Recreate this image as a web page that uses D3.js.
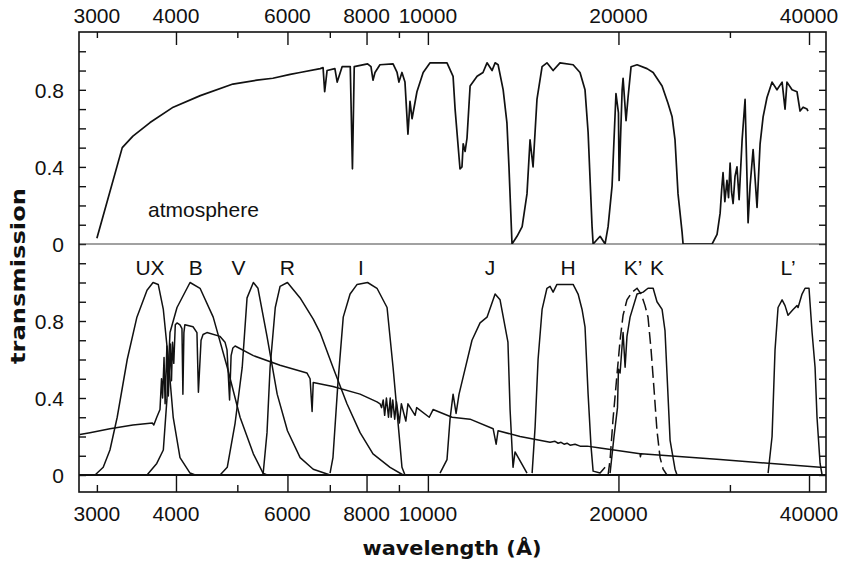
<!DOCTYPE html>
<html><head><meta charset="utf-8">
<script src="https://cdn.jsdelivr.net/npm/d3@7"></script>
<style>body{margin:0;background:#fff}svg{display:block}</style>
</head><body><svg id="chart" width="841" height="566"></svg>
<script>
// ---------- DATA ----------
const atmWave = [3000,3290,3420,3640,3960,4370,4920,5370,5690,6060,6280,6760,6830,6870,6930,7130,7190,7320,7540,7600,7650,8030,8130,8190,8250,8400,8810,8940,9000,9100,9200,9300,9370,9440,9610,9830,10080,10720,10960,11040,11200,11240,11320,11370,11450,11530,11660,11960,12220,12400,12630,12770,12910,13150,13330,13430,13580,13830,14090,14340,14500,14660,14870,15150,15420,15770,16170,16960,17390,17710,17910,18170,18240,18710,19050,19260,19540,19820,20000,20050,20270,20340,20560,20710,20940,21400,22190,22690,23440,23950,24310,24570,24840,25210,25300,28120,28630,28950,29110,29260,29450,29680,29850,30020,30180,30350,30560,30780,31020,31360,31700,32050,32280,32640,33110,33480,33850,34330,34970,35600,36270,36660,36920,37610,38290,38720,39150,39710,39850];
const atmTrans = [0.03,0.50,0.56,0.63,0.71,0.77,0.83,0.85,0.86,0.88,0.89,0.91,0.915,0.79,0.90,0.91,0.84,0.92,0.92,0.39,0.92,0.935,0.92,0.85,0.89,0.93,0.935,0.89,0.84,0.89,0.84,0.57,0.74,0.65,0.79,0.89,0.94,0.94,0.87,0.70,0.45,0.39,0.40,0.52,0.48,0.55,0.82,0.87,0.89,0.94,0.90,0.94,0.93,0.80,0.63,0.40,0.0,0.04,0.09,0.26,0.54,0.40,0.75,0.92,0.94,0.90,0.94,0.93,0.89,0.80,0.58,0.09,0.0,0.04,0.0,0.09,0.30,0.78,0.68,0.33,0.80,0.86,0.64,0.76,0.92,0.93,0.91,0.89,0.82,0.73,0.66,0.54,0.26,0.06,0.0,0.0,0.05,0.16,0.28,0.37,0.22,0.33,0.24,0.42,0.27,0.21,0.35,0.40,0.23,0.54,0.75,0.11,0.30,0.49,0.19,0.52,0.66,0.76,0.84,0.80,0.84,0.70,0.84,0.80,0.79,0.69,0.71,0.70,0.69];

const uxWave = [2980,3070,3146,3230,3350,3470,3600,3680,3750,3820,3890,3960,4059,4210,4290];
const uxTrans = [0,0.04,0.13,0.30,0.60,0.82,0.96,1.0,0.99,0.86,0.60,0.30,0.09,0.01,0];
const bWave = [3600,3730,3820,3870,3914,4015,4210,4366,4580,4820,5050,5300,5490,5570];
const bTrans = [0,0.06,0.13,0.39,0.74,0.87,1.0,0.97,0.82,0.56,0.30,0.11,0.01,0];
const vWave = [4696,4820,4960,5090,5180,5300,5390,5570,5780,6000,6283,6590,7006];
const vTrans = [0,0.04,0.27,0.56,0.92,1.0,0.97,0.72,0.42,0.23,0.09,0.03,0];
const rWave = [5490,5570,5633,5740,5841,6000,6283,6590,6756,7080,7450,7814,8190,8715,9140];
const rTrans = [0,0.22,0.56,0.87,0.98,1.0,0.92,0.81,0.74,0.56,0.37,0.22,0.11,0.04,0];
const iWave = [7006,7080,7210,7350,7535,7730,8030,8310,8620,8810,9000,9100,9200];
const iTrans = [0.01,0.09,0.48,0.82,0.94,0.99,1.0,0.97,0.87,0.56,0.22,0.04,0];
const jWave = [10452,10720,10839,10960,11080,11200,11370,11740,12090,12400,12770,13002,13380,13484,13630,13730,14340];
const jTrans = [0.01,0.08,0.29,0.42,0.32,0.42,0.51,0.70,0.79,0.82,0.94,0.91,0.69,0.34,0.04,0.12,0.01];
const hWave = [14610,14770,14930,15150,15420,15596,15770,15990,16960,17270,17520,17710,17910,18100,18240,18707,19050];
const hTrans = [0.01,0.25,0.60,0.86,0.97,0.98,0.95,0.99,0.99,0.94,0.86,0.77,0.42,0.15,0.02,0.01,0.04];
const kpWave = [19260,19400,19610,19930,20119,20340,20630,21020,21400,21720,22030,22270,22520,22770,23010,23270,23530,23860];
const kpTrans = [0,0.08,0.29,0.55,0.70,0.83,0.91,0.95,0.97,0.94,0.88,0.82,0.65,0.44,0.23,0.09,0.03,0];
const kWave = [19400,19680,19930,20000,20119,20340,20490,20630,20864,21400,21880,22270,22690,23010,23440,23690,23860,24133,24570,24750];
const kTrans = [0.01,0.20,0.35,0.55,0.53,0.74,0.56,0.72,0.82,0.94,0.95,0.97,0.97,0.90,0.86,0.75,0.53,0.18,0.03,0];
const lpWave = [34470,34970,35350,35740,36270,36660,37060,37750,38290,38440,39000,39430,40000,40450,40890,41180,41644,41950];
const lpTrans = [0.01,0.20,0.65,0.87,0.91,0.88,0.83,0.86,0.88,0.87,0.94,0.97,0.97,0.74,0.56,0.30,0.06,0];

const starWave = [2820,2925,3146,3420,3670,3690,3730,3774,3795,3810,3830,3845,3870,3890,3920,3935,3950,3968,3990,4015,4059,4088,4102,4117,4131,4256,4317,4340,4382,4414,4477,4696,4781,4816,4861,4888,4920,4960,5300,5841,6440,6515,6563,6590,7080,7814,8310,8403,8450,8500,8545,8600,8665,8720,8750,8800,8863,8920,9015,9080,9229,9300,9546,9600,10049,10190,10920,11657,12680,12818,12910,13983,15596,15880,16060,16230,16410,16590,16773,17080,17394,17850,18707,21637,21660,21720,28946,41644,42550];
const starFlux = [0.21,0.22,0.24,0.26,0.27,0.26,0.30,0.34,0.50,0.40,0.61,0.37,0.67,0.41,0.68,0.49,0.69,0.58,0.78,0.79,0.78,0.76,0.42,0.74,0.78,0.77,0.74,0.43,0.70,0.73,0.74,0.72,0.69,0.65,0.39,0.62,0.66,0.67,0.62,0.57,0.53,0.50,0.33,0.48,0.46,0.42,0.38,0.37,0.35,0.39,0.31,0.40,0.30,0.40,0.30,0.39,0.29,0.38,0.27,0.37,0.28,0.37,0.31,0.35,0.30,0.34,0.30,0.29,0.24,0.16,0.23,0.20,0.17,0.175,0.165,0.17,0.16,0.165,0.155,0.16,0.15,0.15,0.14,0.11,0.095,0.11,0.08,0.04,0.04];

const filterLabels = ["UX","B","V","R","I","J","H","K\u2019","K","L\u2019"];
const filterLabelWave = [3640,4300,5020,6000,7840,12540,16650,21090,23010,37060];

const xTickLabels = [3000,4000,6000,8000,10000,20000,40000];
const xMajorTicks = [4000,6000,8000,10000,20000,40000];
const xMinorTicks = [3000,5000,7000,9000,30000];
const yTickLabels = [0,0.4,0.8];
const yTicksTop = [0,0.1,0.2,0.3,0.4,0.5,0.6,0.7,0.8,0.9,1.0];
const yTicksBot = [0,0.1,0.2,0.3,0.4,0.5,0.6,0.7,0.8,0.9,1.0,1.1];

// ---------- CHART ----------
const svg = d3.select("#chart");
svg.append("rect").attr("width",841).attr("height",566).attr("fill","#fff");
const L = 79, R = 826, T = 32, B = 492, MID = 244;
const x = d3.scaleLog().domain([2811, 42550]).range([L, R]);
const yTop = d3.scaleLinear().domain([0, 1.1]).range([MID, T]);
const yBot = d3.scaleLinear().domain([-0.0883, 1.2]).range([B, MID]);

const defs = svg.append("defs");
defs.append("clipPath").attr("id","clipTop").append("rect").attr("x",L).attr("y",T).attr("width",R-L).attr("height",MID-T);
defs.append("clipPath").attr("id","clipBot").append("rect").attr("x",L).attr("y",MID).attr("width",R-L).attr("height",B-MID);

const fontTick = "'Liberation Sans', Arial, Helvetica, sans-serif";
const ink = "#111";

function noDomain(g){ g.select(".domain").remove(); g.selectAll(".tick line").attr("stroke",ink).attr("stroke-width",1.4); }

svg.append("g").attr("transform",`translate(0,${T})`)
  .call(d3.axisBottom(x).tickValues(xMajorTicks).tickSize(13).tickFormat(""))
  .call(noDomain);
svg.append("g").attr("transform",`translate(0,${T})`)
  .call(d3.axisBottom(x).tickValues(xMinorTicks).tickSize(6).tickFormat(""))
  .call(noDomain);
svg.append("g").attr("transform",`translate(0,${B})`)
  .call(d3.axisTop(x).tickValues(xMajorTicks).tickSize(17).tickFormat(""))
  .call(noDomain);
svg.append("g").attr("transform",`translate(0,${B})`)
  .call(d3.axisTop(x).tickValues(xMinorTicks).tickSize(7).tickFormat(""))
  .call(noDomain);
[[yTop,yTicksTop],[yBot,yTicksBot]].forEach(([ys,tv])=>{
  svg.append("g").attr("transform",`translate(${L},0)`)
    .call(d3.axisRight(ys).tickValues(tv).tickSize(7).tickFormat("")).call(noDomain);
  svg.append("g").attr("transform",`translate(${R},0)`)
    .call(d3.axisLeft(ys).tickValues(tv).tickSize(7).tickFormat("")).call(noDomain);
});

const tickFmt = d3.format("d");
svg.append("g").selectAll("text").data(xTickLabels).join("text")
  .attr("x",d=>x(d)).attr("y",23).attr("text-anchor","middle")
  .attr("font-family",fontTick).attr("font-size",21).attr("fill",ink).text(tickFmt);
svg.append("g").selectAll("text").data(xTickLabels).join("text")
  .attr("x",d=>x(d)).attr("y",521).attr("text-anchor","middle")
  .attr("font-family",fontTick).attr("font-size",21).attr("fill",ink).text(tickFmt);
const yFmt = d=> d===0 ? "0" : d3.format(".1f")(d);
[yTop,yBot].forEach(ys=>{
  svg.append("g").selectAll("text").data(yTickLabels).join("text")
    .attr("x",64).attr("y",d=>ys(d)+8).attr("text-anchor","end")
    .attr("font-family",fontTick).attr("font-size",21).attr("fill",ink).text(yFmt);
});

svg.append("line").attr("x1",L).attr("x2",R).attr("y1",yTop(0)).attr("y2",yTop(0)).attr("stroke","#444").attr("stroke-width",1.1);
svg.append("line").attr("x1",L).attr("x2",R).attr("y1",yBot(0)).attr("y2",yBot(0)).attr("stroke",ink).attr("stroke-width",1.8);

const lineTop = d3.line().x(d=>x(d[0])).y(d=>yTop(d[1]));
const lineBot = d3.line().x(d=>x(d[0])).y(d=>yBot(d[1]));
svg.append("path").datum(d3.zip(atmWave,atmTrans)).attr("d",lineTop)
  .attr("clip-path","url(#clipTop)").attr("fill","none").attr("stroke",ink).attr("stroke-width",1.7).attr("stroke-linejoin","round");

const gb = svg.append("g").attr("clip-path","url(#clipBot)");
const solid = [[uxWave,uxTrans],[bWave,bTrans],[vWave,vTrans],[rWave,rTrans],[iWave,iTrans],[jWave,jTrans],[hWave,hTrans],[kWave,kTrans],[lpWave,lpTrans],[starWave,starFlux]];
solid.forEach(([w,t])=>{
  gb.append("path").datum(d3.zip(w,t)).attr("d",lineBot)
    .attr("fill","none").attr("stroke",ink).attr("stroke-width",1.5).attr("stroke-linejoin","round");
});
gb.append("path").datum(d3.zip(kpWave,kpTrans)).attr("d",lineBot)
  .attr("fill","none").attr("stroke",ink).attr("stroke-width",1.5).attr("stroke-dasharray","12,5");

svg.append("g").selectAll("text").data(d3.zip(filterLabels,filterLabelWave)).join("text")
  .attr("x",d=>x(d[1])).attr("y",275).attr("text-anchor","middle")
  .attr("font-family",fontTick).attr("font-size",21).attr("fill",ink).text(d=>d[0]);

svg.append("text").attr("x",148).attr("y",217).attr("font-family",fontTick).attr("font-size",21).attr("fill",ink).text("atmosphere");

svg.append("rect").attr("x",L).attr("y",T).attr("width",R-L).attr("height",B-T)
  .attr("fill","none").attr("stroke",ink).attr("stroke-width",1.6);

const fontTitle = "'DejaVu Sans', Verdana, sans-serif";
svg.append("text").attr("x",452).attr("y",555).attr("text-anchor","middle")
  .attr("font-family",fontTitle).attr("font-weight","bold").attr("font-size",20).attr("fill",ink)
  .attr("textLength",179).attr("lengthAdjust","spacingAndGlyphs").text("wavelength  (\u00C5)");
svg.append("text").attr("transform","translate(25,276) rotate(-90)").attr("text-anchor","middle")
  .attr("font-family",fontTitle).attr("font-weight","bold").attr("font-size",20).attr("fill",ink)
  .attr("textLength",176).attr("lengthAdjust","spacingAndGlyphs").text("transmission");
</script></body></html>
